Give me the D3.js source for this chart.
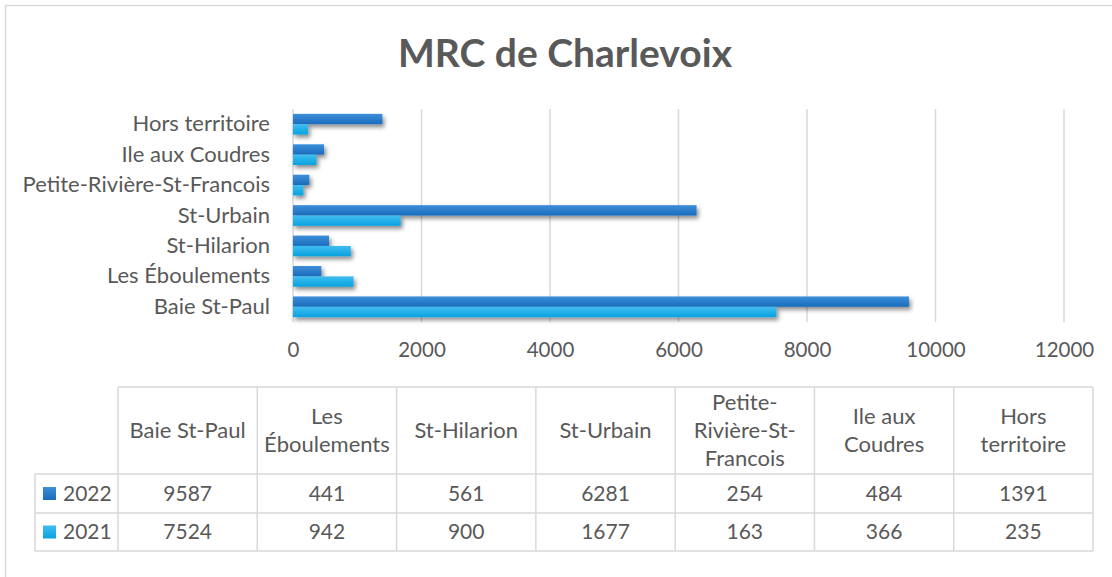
<!DOCTYPE html>
<html><head><meta charset="utf-8">
<script src="https://cdn.jsdelivr.net/npm/d3@7"></script>
<style>
html,body{margin:0;padding:0;background:#fff;}
svg{display:block;}
text{font-family:Lato, "Open Sans", sans-serif; fill:#595959;}
</style></head>
<body>
<svg id="c" width="1112" height="577"></svg>
<script>
const title = "MRC de Charlevoix";
const categories = ["Baie St-Paul","Les Éboulements","St-Hilarion","St-Urbain","Petite-Rivière-St-Francois","Ile aux Coudres","Hors territoire"];
const headerLabels = ["Baie St-Paul","Les\nÉboulements","St-Hilarion","St-Urbain","Petite-\nRivière-St-\nFrancois","Ile aux\nCoudres","Hors\nterritoire"];
const seriesNames = ["2022","2021"];
const values2022 = [9587,441,561,6281,254,484,1391];
const values2021 = [7524,942,900,1677,163,366,235];
const xTicks = [0,2000,4000,6000,8000,10000,12000];

const series = [
  {name: seriesNames[0], values: values2022, c1:"#3d8fd9", c2:"#1a6cbd"},
  {name: seriesNames[1], values: values2021, c1:"#41bdf0", c2:"#08a2e0"}
];

const svg = d3.select("#c");
const defs = svg.append("defs");
series.forEach((s,i)=>{
  const g = defs.append("linearGradient").attr("id","g"+i).attr("x1",0).attr("y1",0).attr("x2",0).attr("y2",1);
  g.append("stop").attr("offset","0%").attr("stop-color",s.c1);
  g.append("stop").attr("offset","100%").attr("stop-color",s.c2);
});
const f = defs.append("filter").attr("id","sh").attr("x","-5%").attr("y","-50%").attr("width","120%").attr("height","250%");
f.append("feDropShadow").attr("dx",2).attr("dy",3).attr("stdDeviation",2).attr("flood-color","#000").attr("flood-opacity",0.45);

// outer border
svg.append("path").attr("d","M5.5,577 V5.5 H1112").attr("fill","none").attr("stroke","#d9d9d9").attr("stroke-width",1.5);

// title
svg.append("text").attr("x",565).attr("y",67).attr("text-anchor","middle")
  .style("font-size","39px").style("font-weight","bold").text(title);

const x = d3.scaleLinear().domain([0,12000]).range([293,1064]);
const y = d3.scaleBand().domain(categories.slice().reverse()).range([109,322]).paddingInner(0.32).paddingOuter(0.16);
const ySub = d3.scaleBand().domain(seriesNames).range([0,y.bandwidth()]);

// gridlines
svg.append("g").selectAll("line").data(xTicks).join("line")
  .attr("x1",d=>x(d)).attr("x2",d=>x(d)).attr("y1",109).attr("y2",322)
  .attr("stroke","#d9d9d9").attr("stroke-width",1.5);

// x axis labels
const xAxis = d3.axisBottom(x).tickValues(xTicks).tickSize(0).tickPadding(0).tickFormat(d3.format("d"));
const gx = svg.append("g").attr("transform","translate(0,342)").call(xAxis);
gx.select(".domain").remove();
gx.selectAll("text").style("font-size","20.5px").attr("fill","#595959").attr("dy","0.71em");

// y axis labels
const yAxis = d3.axisLeft(y).tickSize(0).tickPadding(0);
const gy = svg.append("g").attr("transform","translate(270,0)").call(yAxis);
gy.select(".domain").remove();
gy.selectAll("text").style("font-size","22px").attr("fill","#595959");

// bars
const bars = svg.append("g");
series.forEach((s,i)=>{
  bars.append("g").attr("filter","url(#sh)").selectAll("rect").data(categories).join("rect")
    .attr("x",x(0))
    .attr("y",(d)=>y(d)+ySub(s.name))
    .attr("width",(d,j)=>x(s.values[j])-x(0))
    .attr("height",ySub.bandwidth())
    .attr("fill","url(#g"+i+")");
});

// data table
const tLeft = 35, tRight = 1093, colStart = 118;
const cx = d3.scaleBand().domain(categories).range([colStart,tRight]);
const rowTops = [387,474,513,551];
const tg = svg.append("g");
const lc = "#d9d9d9", lw = 1.5;
tg.append("line").attr("x1",colStart).attr("x2",tRight).attr("y1",rowTops[0]).attr("y2",rowTops[0]).attr("stroke",lc).attr("stroke-width",lw);
[rowTops[1],rowTops[2],rowTops[3]].forEach(yy=>{
  tg.append("line").attr("x1",tLeft).attr("x2",tRight).attr("y1",yy).attr("y2",yy).attr("stroke",lc).attr("stroke-width",lw);
});
tg.append("line").attr("x1",tLeft).attr("x2",tLeft).attr("y1",rowTops[1]).attr("y2",rowTops[3]).attr("stroke",lc).attr("stroke-width",lw);
categories.concat(["__end"]).forEach((c,i)=>{
  const xx = i < categories.length ? cx(c) : tRight;
  tg.append("line").attr("x1",xx).attr("x2",xx).attr("y1",rowTops[0]).attr("y2",rowTops[3]).attr("stroke",lc).attr("stroke-width",lw);
});
const lh = 28;
categories.forEach((c,i)=>{
  const lines = headerLabels[i].split("\n");
  const midY = (rowTops[0]+rowTops[1])/2;
  const t = tg.append("text").attr("text-anchor","middle").style("font-size","22px")
    .attr("x", cx(c)+cx.bandwidth()/2);
  lines.forEach((ln,k)=>{
    t.append("tspan").attr("x", cx(c)+cx.bandwidth()/2)
      .attr("y", midY + (k-(lines.length-1)/2)*lh).attr("dy","0.35em").text(ln);
  });
});
series.forEach((s,r)=>{
  const midY = (rowTops[r+1]+rowTops[r+2])/2;
  tg.append("rect").attr("x",43).attr("y",midY-6.5).attr("width",13).attr("height",13).attr("fill","url(#g"+r+")");
  tg.append("text").attr("x",63).attr("y",midY).attr("dy","0.35em").style("font-size","21px").text(s.name);
  tg.selectAll(null).data(categories).join("text")
    .attr("x",d=>cx(d)+cx.bandwidth()/2).attr("y",midY).attr("dy","0.35em")
    .attr("text-anchor","middle").style("font-size","21px")
    .text((d,j)=>s.values[j]);
});
</script>
</body></html>
